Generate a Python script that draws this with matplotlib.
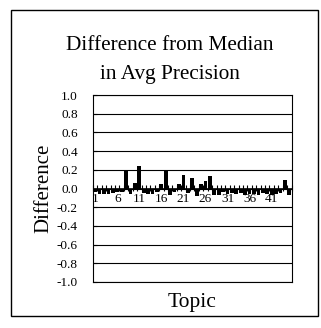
import numpy as np
import matplotlib
matplotlib.use('Agg')
import matplotlib.pyplot as plt
from matplotlib.patches import Rectangle

# Datos: diferencia respecto a la mediana por tema
topics = list(range(1, 46))
diff = [-0.04, -0.06, -0.06, -0.06, -0.05, -0.04, -0.04, 0.19, -0.06, 0.06,
        0.24, -0.05, -0.06, -0.06, -0.04, 0.05, 0.19, -0.07, -0.04, 0.05,
        0.14, -0.05, 0.11, -0.08, 0.05, 0.08, 0.13, -0.07, -0.07, -0.04,
        -0.06, -0.05, -0.06, -0.05, -0.07, -0.06, -0.06, -0.07, -0.05, -0.06,
        -0.07, -0.06, -0.05, 0.09, -0.07]
yticks = [1.0, 0.8, 0.6, 0.4, 0.2, 0.0, -0.2, -0.4, -0.6, -0.8, -1.0]
xlabels = [1, 6, 11, 16, 21, 26, 31, 36, 41]

plt.rcParams['font.family'] = ['Liberation Serif', 'DejaVu Serif']

fig = plt.figure(figsize=(3.21, 3.28), dpi=100)
fig.patches.append(Rectangle((11 / 321, 12 / 328), 307 / 321, 306 / 328,
                             transform=fig.transFigure, fill=False,
                             edgecolor='black', linewidth=1))

ax = fig.add_axes([93 / 321, 46 / 328, 198.5 / 321, 187 / 328])
ax.bar(topics, diff, width=0.85, color='black')
ax.set_xlim(0.5, len(topics) + 0.5)
ax.set_ylim(-1, 1)
ax.set_yticks(yticks)
ax.set_yticklabels(['%.1f' % v for v in yticks], fontsize=9.5)
ax.tick_params(axis='y', length=3, direction='in', pad=11)
ax.yaxis.grid(True, color='black', linewidth=0.8)
ax.set_axisbelow(True)
ax.set_xticks([])
ax.axhline(0, color='black', linewidth=1.2)
for s in ax.spines.values():
    s.set_linewidth(0.8)

# eje de categorías cruzando en cero
sec = ax.secondary_xaxis(0.5)
sec.xaxis.tick_bottom()
sec.set_xticks(np.arange(0.5, len(topics) + 1, 1))
sec.set_xticklabels([])
sec.set_xticks(xlabels, minor=True)
sec.set_xticklabels([str(v) for v in xlabels], minor=True, fontsize=9.5)
sec.tick_params(which='major', direction='inout', length=4, width=0.8)
sec.tick_params(which='minor', length=0, pad=3)
sec.tick_params(which='both', bottom=True, top=False,
                labelbottom=True, labeltop=False)
for s in sec.spines.values():
    s.set_visible(False)

ax.set_ylabel('Difference', fontsize=15, labelpad=2)
ax.set_xlabel('Topic', fontsize=15.5, labelpad=8)
fig.text(170 / 321, 1 - 50 / 328, 'Difference from Median', ha='center',
         va='baseline', fontsize=15.3)
fig.text(170 / 321, 1 - 79 / 328, 'in Avg Precision', ha='center',
         va='baseline', fontsize=15.3)

plt.savefig('out.png', dpi=100)
